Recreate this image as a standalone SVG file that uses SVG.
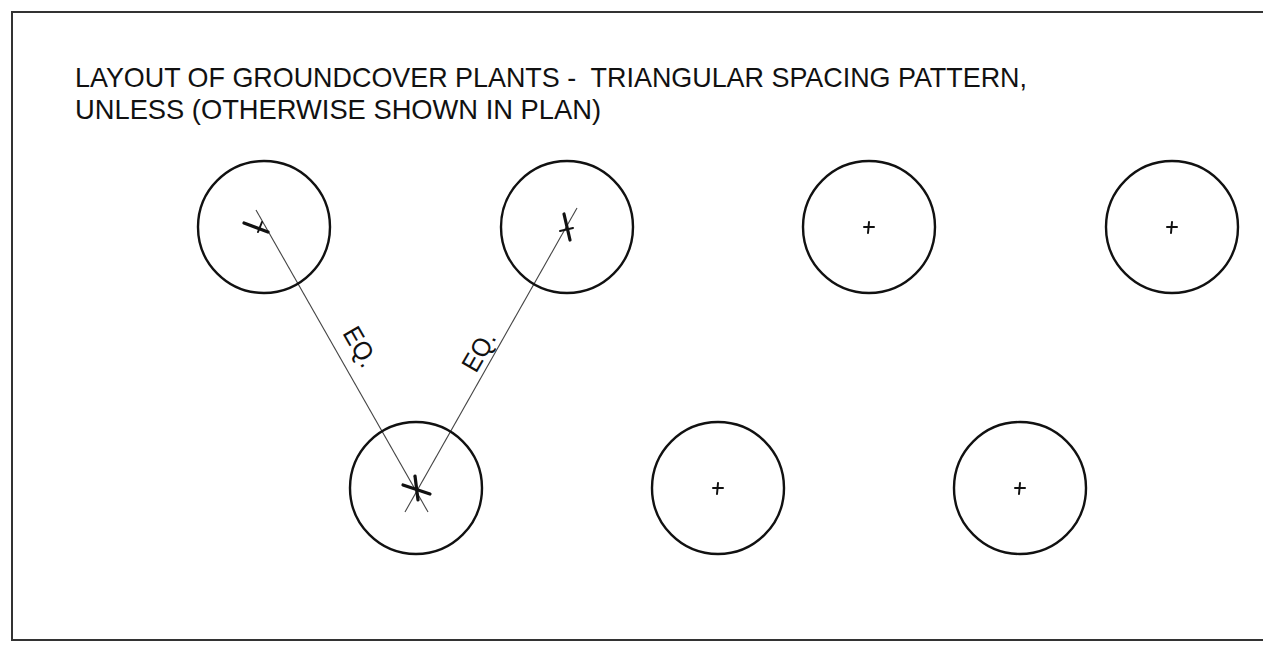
<svg xmlns="http://www.w3.org/2000/svg" width="1263" height="645" viewBox="0 0 1263 645">
<style>
.frame{fill:none;stroke:#333;stroke-width:2}
.plant{fill:none;stroke:#111;stroke-width:2.4}
.mark{stroke:#111;stroke-width:2;stroke-linecap:round}
.heavy{stroke:#111;stroke-width:3.2;stroke-linecap:round}
.dim{stroke:#444;stroke-width:1.1;fill:none}
.title{font-family:"Liberation Sans",Arial,sans-serif;font-size:28px;fill:#111;white-space:pre}
.eq{font-family:"Liberation Sans",Arial,sans-serif;font-size:26px;fill:#111}
</style>
<rect class="frame" x="12" y="12" width="1270" height="628"/>
<g id="title">
<text class="title" x="75" y="87" textLength="952" lengthAdjust="spacingAndGlyphs" xml:space="preserve">LAYOUT OF GROUNDCOVER PLANTS -  TRIANGULAR SPACING PATTERN,</text>
<text class="title" x="75" y="119" textLength="526" lengthAdjust="spacingAndGlyphs">UNLESS (OTHERWISE SHOWN IN PLAN)</text>
</g>
<g id="connectors">
<line class="dim" x1="256" y1="210" x2="428" y2="512"/>
<line class="dim" x1="577" y1="208" x2="405" y2="512"/>
<text class="eq" transform="translate(342,333) rotate(60)" textLength="42" lengthAdjust="spacingAndGlyphs">EQ.</text>
<text class="eq" transform="translate(476,374) rotate(-60)" textLength="42" lengthAdjust="spacingAndGlyphs">EQ.</text>
</g>
<g id="plant1">
<circle class="plant" cx="264" cy="227" r="66"/>
<line class="heavy" x1="244" y1="223" x2="268" y2="232"/>
<line class="mark" x1="262" y1="222" x2="258" y2="232"/>
</g>
<g id="plant2">
<circle class="plant" cx="567" cy="227" r="66"/>
<line class="heavy" x1="564" y1="214" x2="570" y2="240"/>
<line class="mark" x1="560" y1="231" x2="573" y2="228"/>
</g>
<g id="plant3">
<circle class="plant" cx="869" cy="227" r="66"/>
<line class="mark" x1="864" y1="227" x2="874" y2="227"/>
<line class="mark" x1="869" y1="222" x2="868" y2="233"/>
</g>
<g id="plant4">
<circle class="plant" cx="1172" cy="227" r="66"/>
<line class="mark" x1="1167" y1="227" x2="1177" y2="227"/>
<line class="mark" x1="1172" y1="222" x2="1171" y2="233"/>
</g>
<g id="plant5">
<circle class="plant" cx="416" cy="488" r="66"/>
<line class="heavy" x1="403" y1="485" x2="430" y2="494"/>
<line class="heavy" x1="415" y1="476" x2="418" y2="500"/>
</g>
<g id="plant6">
<circle class="plant" cx="718" cy="488" r="66"/>
<line class="mark" x1="713" y1="488" x2="723" y2="488"/>
<line class="mark" x1="718" y1="483" x2="717" y2="494"/>
</g>
<g id="plant7">
<circle class="plant" cx="1020" cy="488" r="66"/>
<line class="mark" x1="1015" y1="488" x2="1025" y2="488"/>
<line class="mark" x1="1020" y1="483" x2="1019" y2="494"/>
</g>
</svg>
